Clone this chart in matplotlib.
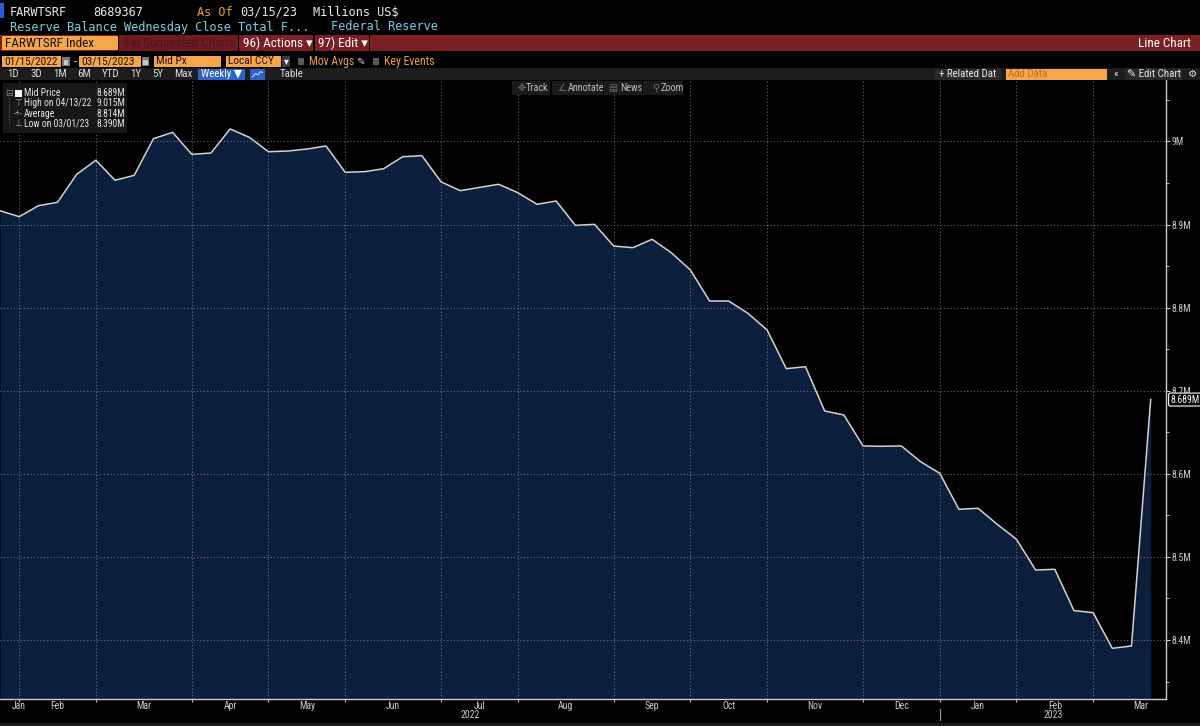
import numpy as np
import pandas as pd
import matplotlib
matplotlib.use('Agg')
import matplotlib.pyplot as plt
import matplotlib.dates as mdates
import matplotlib.transforms as mtrans
from matplotlib.patches import Rectangle
from matplotlib.ticker import FixedLocator, FixedFormatter, NullFormatter, FuncFormatter
from matplotlib import font_manager

# weekly Wednesday close, millions US$ -> shown in trillions ("M" of millions)
dates = pd.date_range('2022-01-19', '2023-03-15', freq='W-WED')
reserves = [8.9166, 8.9094, 8.9226, 8.9267, 8.9604, 8.9773, 8.9532, 8.9592, 9.0033, 9.0109,
            8.9845, 8.9860, 9.0150, 9.0049, 8.9876, 8.9884, 8.9908, 8.9945, 8.9628, 8.9636,
            8.9671, 8.9816, 8.9828, 8.9513, 8.9407, 8.9446, 8.9484, 8.9383, 8.9243, 8.9283,
            8.8990, 8.9002, 8.8741, 8.8721, 8.8822, 8.8661, 8.8453, 8.8079, 8.8079, 8.7931,
            8.7730, 8.7265, 8.7289, 8.6756, 8.6708, 8.6335, 8.6331, 8.6335, 8.6146, 8.6006,
            8.5573, 8.5585, 8.5392, 8.5212, 8.4842, 8.4851, 8.4353, 8.4329, 8.3900, 8.3928,
            8.689367]
y_major = [8.4, 8.5, 8.6, 8.7, 8.8, 8.9, 9.0]
y_minor = [8.35, 8.45, 8.55, 8.65, 8.75, 8.85, 8.95, 9.05]
month_names = ['Jan', 'Feb', 'Mar', 'Apr', 'May', 'Jun', 'Jul', 'Aug', 'Sep', 'Oct', 'Nov', 'Dec']

names = {f.name for f in font_manager.fontManager.ttflist}
narrow = 'DejaVu Sans'
for cand in ['Liberation Sans Narrow', 'Roboto Condensed', 'Open Sans Condensed', 'Arial Narrow']:
    if cand in names:
        narrow = cand
        break
shrink = 1.0 if narrow != 'DejaVu Sans' else 0.86
FAM = [narrow, 'DejaVu Sans']
MONO = ['DejaVu Sans Mono']

ORANGE = '#f5a54a'
RED = '#7b1f25'
GREY = '#cfcfcf'

fig = plt.figure(figsize=(12, 7.26), dpi=100, facecolor='black')

# ---- chart ----
ax = fig.add_axes([0, 27 / 726, 1166 / 1200, 619 / 726], facecolor='black')
x0 = mdates.date2num(dates[0])
x1 = x0 + 1166 / 19.178 * 7
ybot, ytop = 8.329, 9.0739
ax.set_xlim(x0, x1)
ax.set_ylim(ybot, ytop)

ax.fill_between(dates, reserves, ybot, color='#0b1e3b', lw=0, zorder=1)
ax.plot(dates, reserves, color='#d4d4d4', lw=1.1, zorder=2)

# month ends (last wednesday) for grid / ticks
wed_all = pd.Series(pd.date_range('2021-12-01', '2023-04-30', freq='W-WED'))
month_end = wed_all.groupby([wed_all.dt.year, wed_all.dt.month]).max().tolist()
me_num = [mdates.date2num(d) for d in month_end]
tick_pos = [v for v in me_num if x0 < v < x1]

lab_pos, lab_txt = [], []
for i in range(1, len(month_end)):
    mid = (me_num[i - 1] + me_num[i]) / 2
    if mid > x1:
        continue
    if mid < x0:
        if me_num[i] < x0:
            continue
        mid = me_num[i]
    lab_pos.append(mid)
    lab_txt.append(month_names[month_end[i].month - 1])

ax.xaxis.set_major_locator(FixedLocator(tick_pos))
ax.xaxis.set_major_formatter(NullFormatter())
ax.xaxis.set_minor_locator(FixedLocator(lab_pos))
ax.xaxis.set_minor_formatter(FixedFormatter(lab_txt))
ax.xaxis.remove_overlapping_locs = False
ax.tick_params(axis='x', which='major', length=2.5, color='#bbbbbb', direction='out')
ax.tick_params(axis='x', which='minor', length=0, pad=1.2, labelsize=7 * shrink, labelcolor=GREY)

ax.yaxis.tick_right()
ax.yaxis.set_major_locator(FixedLocator(y_major))
ax.yaxis.set_minor_locator(FixedLocator(y_minor))
ax.yaxis.set_major_formatter(FuncFormatter(lambda v, p: f'{v:g}M'))
ax.tick_params(axis='y', which='major', length=3, color=GREY, pad=1, labelsize=7 * shrink, labelcolor=GREY)
ax.tick_params(axis='y', which='minor', length=2, color=GREY)
for lab in ax.get_xticklabels(minor=True) + ax.get_yticklabels():
    lab.set_family(FAM)

ax.grid(True, which='major', color='#a8a8a8', alpha=0.6, lw=0.8, ls=(0, (1, 2)))
ax.set_axisbelow(False)
for s in ['top', 'left']:
    ax.spines[s].set_visible(False)
for s in ['right', 'bottom']:
    ax.spines[s].set_color(GREY)
    ax.spines[s].set_linewidth(1.0)

# years under months
sep = [v for v in me_num if x0 < v < x1 and mdates.num2date(v).month == 12][0]
blend = mtrans.blended_transform_factory(ax.transData, ax.transAxes)
ax.plot([sep, sep], [-0.016, -0.034], transform=blend, color='#9a9a9a', lw=0.8, clip_on=False)
ax.text((x0 + sep) / 2, -0.026, '2022', transform=blend, ha='center', va='center',
        color=GREY, fontsize=7 * shrink, family=FAM)
ax.text((sep + x1) / 2, -0.026, '2023', transform=blend, ha='center', va='center',
        color=GREY, fontsize=7 * shrink, family=FAM)

# last value tag
last = reserves[-1]
yblend = mtrans.blended_transform_factory(ax.transAxes, ax.transData)
ax.text(1.0035, last, f'{last:.3f}M', transform=yblend, ha='left', va='center', color='white',
        fontsize=7 * shrink, family=FAM, clip_on=False,
        bbox=dict(boxstyle='round,pad=0.15', fc='black', ec='white', lw=0.8))

# ---- terminal chrome ----
ui = fig.add_axes([0, 0, 1, 1])
ui.set_xlim(0, 1200)
ui.set_ylim(726, 0)
ui.axis('off')
ui.set_zorder(5)


def box(xa, ya, xb, yb, color, z=1, ec='none'):
    ui.add_patch(Rectangle((xa, ya), xb - xa, yb - ya, facecolor=color, edgecolor=ec, lw=0.6, zorder=z))


def txt(x, y, s, color='#e0e0e0', size=8, fam=None, ha='left', z=3):
    ui.text(x, y, s, color=color, fontsize=size if fam is MONO else size * shrink,
            family=fam or FAM, ha=ha, va='center', zorder=z)


# rows 1-2
box(0, 3, 4, 18, '#2a5ad8')
txt(9.6, 12, 'FARWTSRF', '#ececec', 8.6, MONO)
txt(93, 12, '8689367', '#ececec', 8.6, MONO)
txt(197, 12, 'As Of', '#e8a040', 8.6, MONO)
txt(240, 12, '03/15/23', '#ececec', 8.6, MONO)
txt(313, 12, 'Millions US$', '#ececec', 8.6, MONO)
txt(9.6, 27, 'Reserve Balance Wednesday Close Total F...', '#7ccfe4', 8.6, MONO)
txt(331, 27, 'Federal Reserve', '#7ccfe4', 8.6, MONO)

# row 3 red bar
box(0, 35, 1200, 51, RED)
box(118.6, 35, 237.5, 51, '#701b21', z=2)
for xs in [118, 238.3, 313.9, 369.6]:
    box(xs - 0.6, 35, xs + 0.6, 51, 'black', z=2)
box(2, 36, 117.5, 50, ORANGE, z=2)
txt(4.6, 43.3, 'FARWTSRF Index', '#1a1208', 9.5)
txt(123, 43.3, '94) Suggested Charts', '#4e161b', 9.5)
txt(243.4, 43.3, '96) Actions \u25be', 'white', 9.5)
txt(317.6, 43.3, '97) Edit \u25be', 'white', 9.5)
txt(1191, 43.3, 'Line Chart', 'white', 9.5, ha='right')

# row 4 selectors
for xa, xb, s in [(2, 61, '01/15/2022'), (79, 140.5, '03/15/2023'), (154, 221, 'Mid Px'), (226, 281, 'Local CCY')]:
    box(xa, 55.5, xb, 67, ORANGE, z=2)
    txt(xa + 2.4, 61.3, s, '#1a1208', 8.2)
for xa in [62.4, 141.6]:
    box(xa, 57, xa + 7.5, 66, '#7a7a7a', z=2)
    box(xa + 1.5, 59.5, xa + 6, 64.5, '#c8c8c8', z=3)
txt(73.5, 61.3, '-', '#e0e0e0', 8.5)
box(282.4, 55.5, 290, 67, '#3c3c3c', z=2)
txt(286.2, 61.3, '\u25be', 'white', 7, ha='center')
box(297.7, 58, 304, 64.5, '#5a5a5a', z=2)
txt(309, 61.3, 'Mov Avgs', '#f0a040', 8.5)
txt(356, 61.3, '\u270e', '#d0d0d0', 7.5)
box(373, 58, 379.3, 64.5, '#5a5a5a', z=2)
txt(384, 61.3, 'Key Events', '#f0a040', 8.5)

# row 5 toolbar
box(0, 67.5, 1200, 80, '#1d1d1d')
for x, s in [(7.6, '1D'), (30.6, '3D'), (53.6, '1M'), (77.7, '6M'), (101.4, 'YTD'),
             (130, '1Y'), (152, '5Y'), (174, 'Max')]:
    txt(x, 73.7, s, '#dcdcdc', 7.8)
box(198, 68.5, 245, 79.5, '#2f62c9', z=2)
txt(201, 73.7, 'Weekly \u25bc', 'white', 7.8)
box(249.5, 68.5, 265, 79.5, '#2f62c9', z=2)
ui.plot([252.5, 255.5, 258, 260.5, 262.5], [77, 73.5, 75, 71.5, 72.5], color='#d8e4ff', lw=0.7, zorder=3)
txt(279.4, 73.7, 'Table', '#dcdcdc', 7.8)
box(935, 68.5, 1001, 79.5, '#2a2a2a', z=2)
txt(938.7, 73.7, '+ Related Dat', '#e6e6e6', 7.8)
box(1005.7, 68.5, 1107, 79.5, ORANGE, z=2)
txt(1008, 73.7, 'Add Data', '#c4711f', 7.8)
txt(1113, 73.7, '\u00ab', '#dcdcdc', 8)
box(1124.5, 68.5, 1182, 79.5, '#2a2a2a', z=2)
txt(1127, 73.7, '\u270e Edit Chart', '#e6e6e6', 7.8)
txt(1188, 73.7, '\u2699', '#dcdcdc', 7.5)

# chart tool buttons
for xa, xb, ix, icon, tx, s in [(511.7, 550, 518, '\u2725', 525.7, 'Track'),
                                 (551.7, 602.7, 557, '\u2220', 567.7, 'Annotate'),
                                 (604, 642, 608, '\u25a4', 620.7, 'News'),
                                 (643, 683, 651.7, '\u26b2', 660.7, 'Zoom')]:
    box(xa, 81.3, xb, 94.7, '#1b1b1b', z=2)
    txt(ix, 88, icon, '#6a6a6a', 7)
    txt(tx, 88, s, '#bcbcbc', 7.3)

# legend panel
box(2.7, 83.3, 126.7, 133.3, '#171717', z=2)
hi = int(np.argmax(reserves))
lo = int(np.argmin(reserves))
rows = [('Mid Price', f'{reserves[-1]:.3f}M'),
        (f'High on {dates[hi]:%m/%d/%y}', f'{reserves[hi]:.3f}M'),
        ('Average', f'{np.mean(reserves):.3f}M'),
        (f'Low on {dates[lo]:%m/%d/%y}', f'{reserves[lo]:.3f}M')]
ry = [93, 103.3, 113.7, 123.7]
ui.plot([9.3, 9.3], [96.5, 124], color='#6a6a6a', lw=0.6, ls=(0, (1, 1)), zorder=3)
txt(9.3, ry[0], '\u229f', '#8a8a8a', 6.5, ha='center')
box(15, 89.5, 21.7, 96.5, 'white', z=3)
for y, g in zip(ry[1:], ['\u22a4', '-+-', '\u22a5']):
    txt(18.3, y, g, '#9a9a9a', 6.5, ha='center')
for y, (a, b) in zip(ry, rows):
    txt(24, y, a, '#e6e6e6', 6.9)
    txt(96.7, y, b, '#e6e6e6', 6.9)

box(0, 723, 1200, 726, '#1a1a1a')

fig.savefig('out.png', dpi=100, facecolor='black')
